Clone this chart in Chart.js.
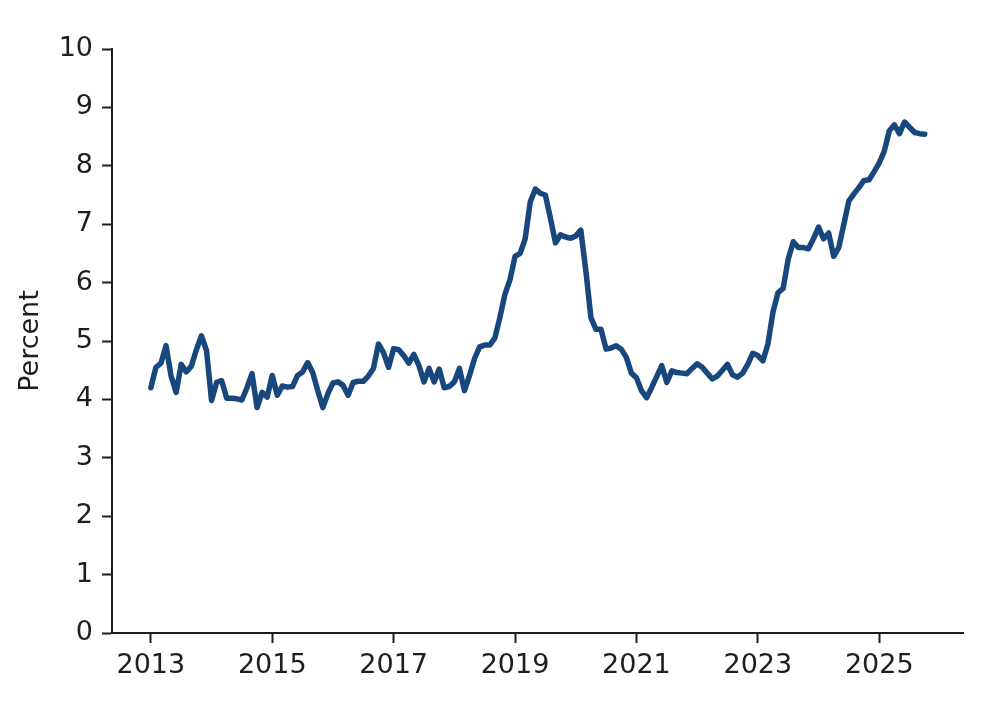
<!DOCTYPE html>
<html>
<head>
<meta charset="utf-8">
<script src="https://cdn.jsdelivr.net/npm/chart.js@4.4.1/dist/chart.umd.min.js"></script>
<style>
  html, body { margin: 0; padding: 0; background: #fff; }
  #chart { display: block; }
</style>
</head>
<body>
<canvas id="chart" width="991" height="706"></canvas>
<script>
// Monthly series, starting January 2013
const startYear = 2013;
const values = [
  4.20, 4.55, 4.62, 4.92, 4.40, 4.12, 4.60, 4.47, 4.57, 4.85, 5.09, 4.84,
  3.98, 4.29, 4.32, 4.02, 4.02, 4.01, 3.99, 4.20, 4.44, 3.86, 4.12, 4.04,
  4.41, 4.07, 4.23, 4.21, 4.22, 4.41, 4.47, 4.63, 4.46, 4.15, 3.86, 4.10,
  4.28, 4.30, 4.24, 4.07, 4.29, 4.31, 4.31, 4.40, 4.53, 4.95, 4.80, 4.55,
  4.87, 4.85, 4.75, 4.62, 4.77, 4.58, 4.30, 4.53, 4.30, 4.52, 4.20, 4.22,
  4.30, 4.53, 4.15, 4.41, 4.70, 4.90, 4.93, 4.93, 5.05, 5.40, 5.80, 6.05,
  6.45, 6.50, 6.75, 7.38, 7.60, 7.53, 7.50, 7.10, 6.68, 6.82, 6.78, 6.76,
  6.80, 6.90, 6.20, 5.40, 5.20, 5.20, 4.86, 4.88, 4.92, 4.86, 4.72, 4.45,
  4.37, 4.15, 4.03, 4.20, 4.39, 4.58, 4.29, 4.49, 4.46, 4.45, 4.44, 4.53,
  4.61, 4.55, 4.45, 4.35, 4.40, 4.50, 4.60, 4.42, 4.38, 4.45, 4.60, 4.79,
  4.75, 4.66, 4.95, 5.50, 5.83, 5.90, 6.40, 6.70, 6.60, 6.60, 6.58, 6.75,
  6.95, 6.75, 6.85, 6.45, 6.60, 7.00, 7.40, 7.52, 7.63, 7.75, 7.76, 7.90,
  8.05, 8.25, 8.60, 8.70, 8.55, 8.75, 8.66, 8.57, 8.55, 8.54
];
const xTicks = [2013, 2015, 2017, 2019, 2021, 2023, 2025];
const yTicks = [0, 1, 2, 3, 4, 5, 6, 7, 8, 9, 10];

const points = values.map((v, i) => ({ x: startYear + i / 12, y: v }));

const axisColor = "#1e1e1e";
const tickFont = { family: "DejaVu Sans", size: 27 };

new Chart(document.getElementById("chart"), {
  type: "line",
  data: {
    datasets: [
      {
        data: points,
        borderColor: "#17477d",
        borderWidth: 5.5,
        borderJoinStyle: "round",
        borderCapStyle: "round",
        pointRadius: 0,
        tension: 0,
        fill: false,
      },
    ],
  },
  options: {
    responsive: false,
    animation: false,
    devicePixelRatio: 1,
    layout: { padding: { top: 49, right: 28, left: 0, bottom: 0 } },
    plugins: { legend: { display: false }, tooltip: { enabled: false } },
    scales: {
      x: {
        type: "linear",
        min: 2012.36,
        max: 2026.38,
        afterBuildTicks: (scale) => {
          scale.ticks = xTicks.map((v) => ({ value: v }));
        },
        afterFit: (scale) => {
          scale.height = 73;
        },
        ticks: {
          color: axisColor,
          font: tickFont,
          padding: 7,
          maxRotation: 0,
          callback: (v) => String(v),
        },
        grid: {
          drawOnChartArea: false,
          drawTicks: true,
          tickLength: 10,
          tickWidth: 2,
          tickColor: axisColor,
        },
        border: { color: axisColor, width: 2 },
      },
      y: {
        min: 0,
        max: 10,
        afterBuildTicks: (scale) => {
          scale.ticks = yTicks.map((v) => ({ value: v }));
        },
        afterFit: (scale) => {
          scale.width = 112;
        },
        ticks: {
          color: axisColor,
          font: tickFont,
          padding: 9,
        },
        grid: {
          drawOnChartArea: false,
          drawTicks: true,
          tickLength: 10,
          tickWidth: 2,
          tickColor: axisColor,
        },
        border: { color: axisColor, width: 2 },
        title: {
          display: true,
          text: "Percent",
          color: axisColor,
          font: tickFont,
          padding: { top: 15, bottom: 0 },
        },
      },
    },
  },
});
</script>
</body>
</html>
